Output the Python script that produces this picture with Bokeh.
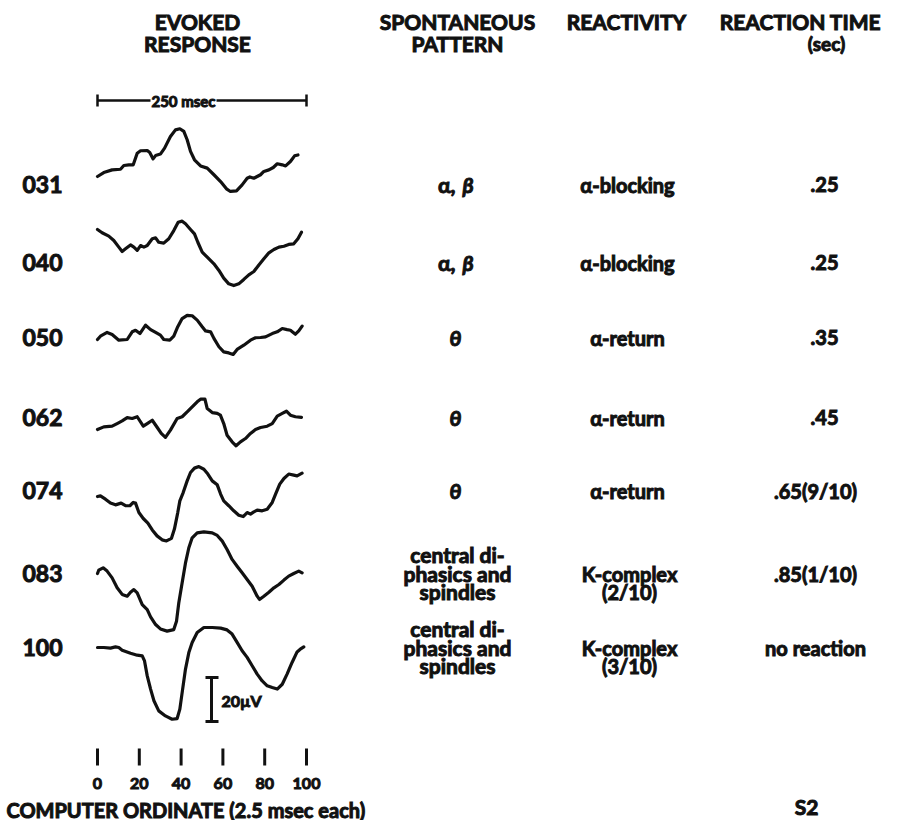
from bokeh.plotting import figure
from bokeh.models import Range1d
from bokeh.core.properties import value
from bokeh.embed import file_html
from bokeh.resources import INLINE

# ---------------- data ----------------
ROW_IDS = ["031", "040", "050", "062", "074", "083", "100"]
SPONT = ["α, β", "α, β", "θ", "θ", "θ", "central di-\nphasics and\nspindles", "central di-\nphasics and\nspindles"]
REACT = ["α-blocking", "α-blocking", "α-return", "α-return", "α-return", "K-complex\n(2/10)", "K-complex\n(3/10)"]
RTIME = [".25", ".25", ".35", ".45", ".65(9/10)", ".85(1/10)", "no reaction"]

# evoked responses: computer ordinate (2.5 msec each) vs amplitude (µV)
T031_X = [0, 3.0, 7.0, 11.0, 12.6, 15.0, 17.1, 19.0, 20.6, 23.8, 25.0, 26.6, 27.8, 30.1, 32.1, 34.9, 37.3, 39.4, 41.3, 42.9, 44.5, 46.4, 49.3, 52.5, 55.7, 58.9, 61.7, 63.6, 66.5, 69.2, 71.6, 72.9, 74.8, 78.0, 79.6, 82.0, 84.1, 86.0, 88.4, 90.0, 92.3, 94.3, 95.9]
T031_Y = [0, 1.8, 3.0, 3.3, 5.0, 5.3, 5.3, 10.6, 11.7, 11.8, 10.9, 8.0, 9.5, 10.2, 12.9, 18.2, 21.2, 21.7, 20.5, 16.7, 11.4, 7.6, 4.8, 3.8, 0.8, -2.3, -5.6, -6.8, -6.5, -3.8, -0.8, -0.2, -0.8, 0.8, 2.3, 3.0, 4.1, 5.8, 5.3, 4.8, 6.8, 9.4, 9.8]

T040_X = [0, 2.2, 5.4, 7.8, 10.2, 11.8, 13.4, 15.8, 17.4, 19.0, 20.6, 22.2, 23.8, 26.2, 27.8, 29.3, 31.7, 34.1, 36.5, 38.6, 40.5, 42.1, 44.5, 46.4, 48.0, 50.1, 52.5, 55.7, 58.1, 60.4, 62.8, 65.2, 67.6, 70.0, 72.4, 74.8, 77.2, 79.6, 82.0, 84.4, 86.8, 89.2, 91.5, 93.9, 95.9, 97.6]
T040_Y = [0, -1.5, -3.0, -5.0, -8.0, -10.0, -8.8, -7.0, -8.0, -9.5, -7.3, -8.0, -7.3, -4.2, -3.8, -5.8, -6.2, -4.2, -0.5, 3.3, 3.8, 2.6, 0, -2.0, -5.8, -10.3, -12.6, -15.6, -18.6, -22.1, -24.7, -25.5, -24.7, -22.7, -20.6, -19.1, -16.1, -13.3, -10.6, -9.1, -8.0, -7.6, -6.8, -6.5, -4.2, -1.2]

T050_X = [0, 1.4, 4.6, 7.0, 10.2, 14.2, 16.6, 18.2, 20.3, 23.0, 25.4, 27.8, 30.1, 31.7, 34.6, 36.5, 38.4, 40.5, 42.9, 45.3, 47.7, 50.1, 51.7, 54.1, 55.7, 58.1, 60.4, 62.8, 64.9, 66.8, 70.0, 73.2, 75.6, 78.0, 80.4, 83.6, 86.0, 88.4, 90.7, 92.3, 94.7, 96.3, 97.9]
T050_Y = [0, 1.5, 3.2, 2.3, -0.3, 0, 3.5, 4.2, 2.7, 6.5, 4.5, 3.2, 2.0, 0, -0.3, 1.5, 5.8, 9.5, 11.0, 10.8, 8.8, 5.8, 3.9, 3.5, 0.5, -3.3, -5.6, -6.1, -6.8, -4.5, -2.6, -0.3, 0.8, 0.9, 1.2, 2.7, 3.5, 5.0, 4.5, 4.2, 2.4, 3.9, 6.1]

T062_X = [0, 3.0, 7.0, 9.4, 11.8, 14.2, 16.6, 19.0, 21.9, 23.8, 26.2, 28.6, 30.5, 32.5, 34.9, 38.1, 40.5, 42.9, 45.3, 47.7, 49.3, 51.4, 52.5, 54.9, 57.3, 58.8, 60.4, 62.0, 64.4, 66.3, 68.4, 70.8, 73.2, 75.6, 78.0, 81.2, 83.6, 86.0, 88.4, 90.4, 92.3, 94.7, 97.6]
T062_Y = [0, 1.2, 1.5, 2.7, 3.9, 5.4, 5.0, 5.8, 1.5, 2.7, 4.2, 0.9, -1.8, -3.6, -0.3, 5.0, 5.8, 8.0, 10.3, 12.6, 13.8, 13.8, 9.5, 7.7, 7.3, 6.5, 2.7, -2.6, -5.6, -7.4, -5.6, -4.1, -1.8, 0, 0.9, 1.5, 2.7, 6.1, 7.3, 8.3, 6.5, 5.8, 5.5]

T074_X = [0, 1.4, 3.8, 6.2, 8.6, 11.3, 13.4, 15.5, 17.1, 18.2, 19.8, 21.9, 24.1, 26.2, 28.5, 30.9, 33.0, 35.4, 36.8, 38.4, 39.4, 41.0, 42.9, 44.5, 46.4, 48.5, 50.9, 52.8, 54.9, 57.3, 58.9, 60.4, 62.8, 65.2, 67.6, 69.7, 71.6, 73.2, 74.8, 76.4, 78.8, 81.2, 83.6, 85.2, 87.2, 89.2, 91.5, 93.9, 95.5, 97.9]
T074_Y = [0, 0.3, -1.2, -3.0, -3.8, -3.0, -4.2, -4.2, -2.7, -3.0, -7.3, -10.0, -12.1, -15.2, -17.9, -19.7, -20.2, -19.0, -14.8, -7.3, -2.0, 1.8, 7.1, 10.9, 12.9, 13.6, 12.4, 10.2, 7.1, 5.3, 1.1, -2.0, -4.2, -6.5, -8.5, -9.1, -7.3, -8.0, -7.0, -6.2, -6.5, -5.8, -2.7, 1.1, 5.6, 8.2, 10.2, 9.7, 9.4, 10.6]

T083_X = [0, 0.6, 2.7, 4.6, 7.0, 9.4, 11.8, 14.2, 15.8, 17.4, 19.0, 21.4, 23.8, 25.4, 27.8, 30.1, 33.3, 36.5, 37.8, 38.9, 40.5, 42.1, 43.7, 45.3, 47.7, 50.9, 54.9, 57.3, 59.7, 62.0, 64.4, 66.8, 69.2, 71.6, 74.0, 76.4, 77.5, 79.6, 82.0, 84.4, 86.8, 89.2, 91.5, 93.9, 96.3, 97.9]
T083_Y = [0, 1.5, 2.6, 1.1, -2.0, -6.5, -9.5, -10.3, -8.5, -7.3, -8.8, -14.1, -16.4, -19.7, -23.2, -25.2, -26.2, -25.5, -21.7, -13.3, -4.2, 4.8, 11.7, 16.2, 18.5, 18.9, 18.5, 17.3, 14.7, 10.9, 6.4, 3.3, 0.3, -2.7, -5.8, -10.3, -11.8, -10.3, -8.5, -6.5, -5.0, -3.0, -1.2, 0, 1.1, 0.3]

T100_X = [0, 3.0, 6.2, 8.6, 10.2, 11.8, 15.8, 19.0, 21.4, 22.5, 23.8, 25.4, 27.0, 29.3, 32.5, 35.7, 38.1, 39.4, 40.5, 42.1, 43.7, 45.3, 47.7, 50.9, 54.9, 58.9, 62.0, 64.4, 66.8, 69.2, 71.6, 74.0, 76.4, 78.8, 81.2, 83.6, 86.0, 88.4, 90.7, 93.1, 95.5, 97.4, 98.7]
T100_Y = [0, 0, -0.3, 0.3, 0, -1.2, -2.6, -3.5, -3.8, -6.1, -12.9, -18.9, -24.2, -28.8, -31.1, -32.6, -32.3, -28.0, -20.5, -9.8, -2.3, 2.3, 6.8, 9.1, 9.1, 8.8, 8.0, 6.1, 2.3, -1.5, -4.5, -8.3, -12.1, -15.2, -17.4, -18.2, -18.9, -16.7, -12.1, -6.8, -2.0, -0.5, 0.3]

TRACES = [(T031_X, T031_Y), (T040_X, T040_Y), (T050_X, T050_Y), (T062_X, T062_Y),
          (T074_X, T074_Y), (T083_X, T083_Y), (T100_X, T100_Y)]

ORD_TICKS = [0, 20, 40, 60, 80, 100]
ORD_TICK_LABELS = ["0", "20", "40", "60", "80", "100"]
SCALE_UV = 20          # µV calibration bar
SWEEP_ORD = 100        # 100 ordinates = 250 msec

# ---------------- layout (page pixels -> data) ----------------
W, H = 903, 820
PX_PER_ORD = 2.09
PX_PER_UV = 2.2
X0_PAGE = 97  # page x of ordinate 0


def X(sx):
    return (sx - X0_PAGE) / PX_PER_ORD


def Y(sy):
    return -sy / PX_PER_UV


ROW_BASE = [176, 229, 339, 429, 496, 573, 647]   # page y of each trace's start
ROW_TEXT = [184, 262, 337, 417, 490, 573, 647]   # page y of row texts

p = figure(width=W, height=H, output_backend="svg", toolbar_location=None,
           x_axis_type=None, y_axis_type=None,
           x_range=Range1d(X(0), X(W)), y_range=Range1d(Y(H), Y(0)),
           min_border=0, outline_line_color=None, background_fill_color="white")
p.grid.visible = False

FONT = value("Lato")
BLACK = "#111111"


def txt(sx, sy, s, size="21px", align="center", style="bold"):
    p.text(x=[X(sx)], y=[Y(sy)], text=[s], text_align=align, text_baseline="middle",
           text_font=FONT, text_font_style=style, text_font_size=size, text_color=BLACK,
           text_outline_color=BLACK)


# headers
txt(197, 21, "EVOKED")
txt(197, 43, "RESPONSE")
txt(457, 21, "SPONTANEOUS")
txt(457, 43, "PATTERN")
txt(626, 21, "REACTIVITY")
txt(800, 21, "REACTION TIME")
txt(826, 43, "(sec)", size="19px")

# sweep bar 250 msec
yb = Y(100)
p.segment(x0=[0, X(216)], y0=[yb, yb], x1=[X(150), SWEEP_ORD], y1=[yb, yb],
          line_width=2.5, line_color=BLACK)
p.segment(x0=[0, SWEEP_ORD], y0=[Y(94), Y(94)], x1=[0, SWEEP_ORD], y1=[Y(106), Y(106)],
          line_width=2.5, line_color=BLACK)
txt(183, 100, "250 msec", size="15px")

# traces and rows
for i, (tx, ty) in enumerate(TRACES):
    base = Y(ROW_BASE[i])
    p.line(x=tx, y=[base + v for v in ty], line_width=3.2, line_color=BLACK,
           line_join="round", line_cap="round")
    sy = ROW_TEXT[i]
    txt(42, sy, ROW_IDS[i], size="23px")
    sp = SPONT[i]
    if "\n" in sp:
        lines = sp.split("\n")
        for k, ln in enumerate(lines):
            txt(457, sy - 19 + 18.5 * k, ln, size="21px")
    elif sp.startswith("α"):
        txt(455, sy, "α,", size="21px", align="right")
        txt(462, sy, "β", size="21px", align="left", style="bold italic")
    else:
        txt(455, sy, sp, size="21px", style="bold italic")
    rc = REACT[i]
    if "\n" in rc:
        lines = rc.split("\n")
        for k, ln in enumerate(lines):
            txt(629, sy + 18 * k, ln, size="20px")
    else:
        txt(627, sy, rc, size="20px")
    rt = RTIME[i]
    txt(824 if len(rt) < 5 else 815, sy, rt, size="20px")

# calibration bar 20 µV
xc = X(211)
p.segment(x0=[xc], y0=[Y(721)], x1=[xc], y1=[Y(721) + SCALE_UV], line_width=3, line_color=BLACK)
p.segment(x0=[X(205), X(205)], y0=[Y(721), Y(721) + SCALE_UV], x1=[X(218), X(218)],
          y1=[Y(721), Y(721) + SCALE_UV], line_width=3, line_color=BLACK)
txt(221, 700, "20µV", size="16px", align="left")

# ordinate ticks
p.segment(x0=ORD_TICKS, y0=[Y(748)] * 6, x1=ORD_TICKS, y1=[Y(765)] * 6,
          line_width=3, line_color=BLACK)
p.text(x=ORD_TICKS, y=[Y(783)] * 6, text=ORD_TICK_LABELS, text_align="center",
       text_baseline="middle", text_font=FONT, text_font_style="bold",
       text_font_size="16px", text_color=BLACK, text_outline_color=BLACK)
txt(6, 809, "COMPUTER ORDINATE  (2.5 msec each)", size="20px", align="left")
txt(806, 806, "S2", size="21px")

open("out.html", "w").write(file_html(p, INLINE))
